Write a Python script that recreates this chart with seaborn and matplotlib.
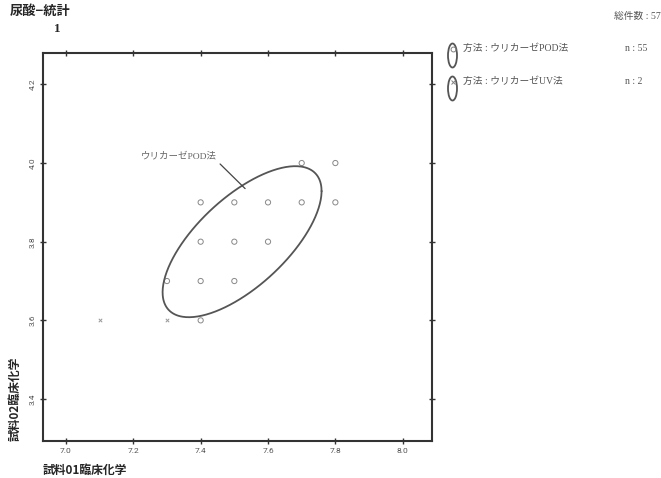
import numpy as np
import pandas as pd
import matplotlib
matplotlib.use("Agg")
import matplotlib.pyplot as plt
from matplotlib.patches import Ellipse
import seaborn as sns

# Sample 01 / Sample 02 results, one row per distinct pair, with repeat counts
pod_x = [7.3, 7.4, 7.4, 7.5, 7.4, 7.5, 7.6, 7.4, 7.5, 7.6, 7.7, 7.8, 7.7, 7.8]
pod_y = [3.7, 3.6, 3.7, 3.7, 3.8, 3.8, 3.8, 3.9, 3.9, 3.9, 3.9, 3.9, 4.0, 4.0]
pod_n = [1, 1, 4, 4, 5, 8, 6, 2, 5, 7, 5, 2, 3, 2]
uv_x = [7.1, 7.3]
uv_y = [3.6, 3.6]
uv_n = [1, 1]

method_pod = "ウリカーゼPOD法"
method_uv = "ウリカーゼUV法"

# Confidence ellipse for the POD method: centre, half extents and correlation
ell_cx, ell_cy = 7.523, 3.800
ell_ax, ell_ay = 0.236, 0.192
ell_rho = 0.67

x_ticks = [7.0, 7.2, 7.4, 7.6, 7.8, 8.0]
y_ticks = [3.4, 3.6, 3.8, 4.0, 4.2]

sns.set_style("ticks")
plt.rcParams["font.family"] = ["Noto Sans CJK JP", "DejaVu Sans"]
serif_jp = ["Liberation Serif", "Noto Sans CJK JP"]

pod = pd.DataFrame({"x": pod_x, "y": pod_y, "n": pod_n})
uv = pd.DataFrame({"x": uv_x, "y": uv_y, "n": uv_n})
n_pod = int(pod.n.sum())
n_uv = int(uv.n.sum())

fig = plt.figure(figsize=(6.61, 4.78), dpi=100)
ax = fig.add_axes([0.0646, 0.078, 0.589, 0.8105])

sns.scatterplot(data=pod, x="x", y="y", marker="o",
                s=14, facecolor="none", edgecolor="#888888", linewidth=0.7,
                legend=False, ax=ax)
sns.scatterplot(data=uv, x="x", y="y", marker="x",
                s=6, color="#999999", linewidth=0.7, legend=False, ax=ax)

t = np.linspace(0, 2 * np.pi, 300)
ex = ell_cx + ell_ax * np.cos(t)
ey = ell_cy + ell_ay * (ell_rho * np.cos(t) + np.sqrt(1 - ell_rho ** 2) * np.sin(t))
ax.plot(ex, ey, color="#555555", lw=1.3)

# label pointing to the ellipse
ax.annotate(method_pod, xy=(7.532, 3.935), xytext=(7.448, 4.017),
            ha="right", va="center", fontsize=6.8, color="#666666",
            family=serif_jp,
            arrowprops=dict(arrowstyle="-", color="#444444", lw=0.9,
                            shrinkA=0, shrinkB=0, relpos=(1.0, 0.0)))

ax.set_xlim(6.931, 8.087)
ax.set_ylim(3.294, 4.279)
ax.set_xticks(x_ticks)
ax.set_yticks(y_ticks)
ax.set_xticklabels([f"{v:.1f}" for v in x_ticks], fontsize=6, color="#555555",
                   family="Roboto")
ax.set_yticklabels([f"{v:.1f}" for v in y_ticks], fontsize=6, color="#555555",
                   rotation=90, va="center", family="Roboto")
ax.tick_params(direction="inout", length=4, width=1, color="#333333",
               top=True, right=True, pad=3)
for sp in ax.spines.values():
    sp.set_color("#333333")
    sp.set_linewidth(1.5)
ax.set_xlabel("")
ax.set_ylabel("")

W, H = 661, 478
def fx(px):
    return px / W
def fy(py):
    return 1 - py / H

fig.text(fx(10), fy(11), "尿酸−統計", fontsize=9.5, fontweight="bold", va="center")
fig.text(fx(57), fy(29), "1", fontsize=9.5, fontweight="bold", va="center", ha="center",
         family=serif_jp)
fig.text(fx(43), fy(470), "試料01臨床化学", fontsize=8.5, fontweight="bold", va="center")
fig.text(fx(15), fy(441), "試料02臨床化学", fontsize=8.5, fontweight="bold",
         rotation=90, ha="center", va="bottom")
fig.text(fx(661), fy(16), "総件数 : 57", fontsize=7, color="#555555", ha="right",
         va="center", family=serif_jp)

# legend entries
legend_rows = [(method_pod, "o", n_pod, 55.5),
               (method_uv, "x", n_uv, 88.5)]
for name, mk, n, yc in legend_rows:
    fig.patches.append(Ellipse((fx(452.5), fy(yc)), 9 / W, 24 / H,
                               transform=fig.transFigure, fill=False,
                               edgecolor="#555555", lw=1.3))
    fig.add_artist(plt.Line2D([fx(452.5)], [fy(yc - 7)], marker=mk,
                              markersize=3.5 if mk == "o" else 2.5,
                              markerfacecolor="none", markeredgecolor="#808080",
                              markeredgewidth=0.7, transform=fig.transFigure))
    fig.text(fx(463), fy(yc - 7), f"方法 : {name}", fontsize=7, color="#555555",
             va="center", family=serif_jp)
    fig.text(fx(625), fy(yc - 7), f"n : {n}", fontsize=7, color="#555555",
             va="center", family=serif_jp)

fig.savefig("out.png", dpi=100)
